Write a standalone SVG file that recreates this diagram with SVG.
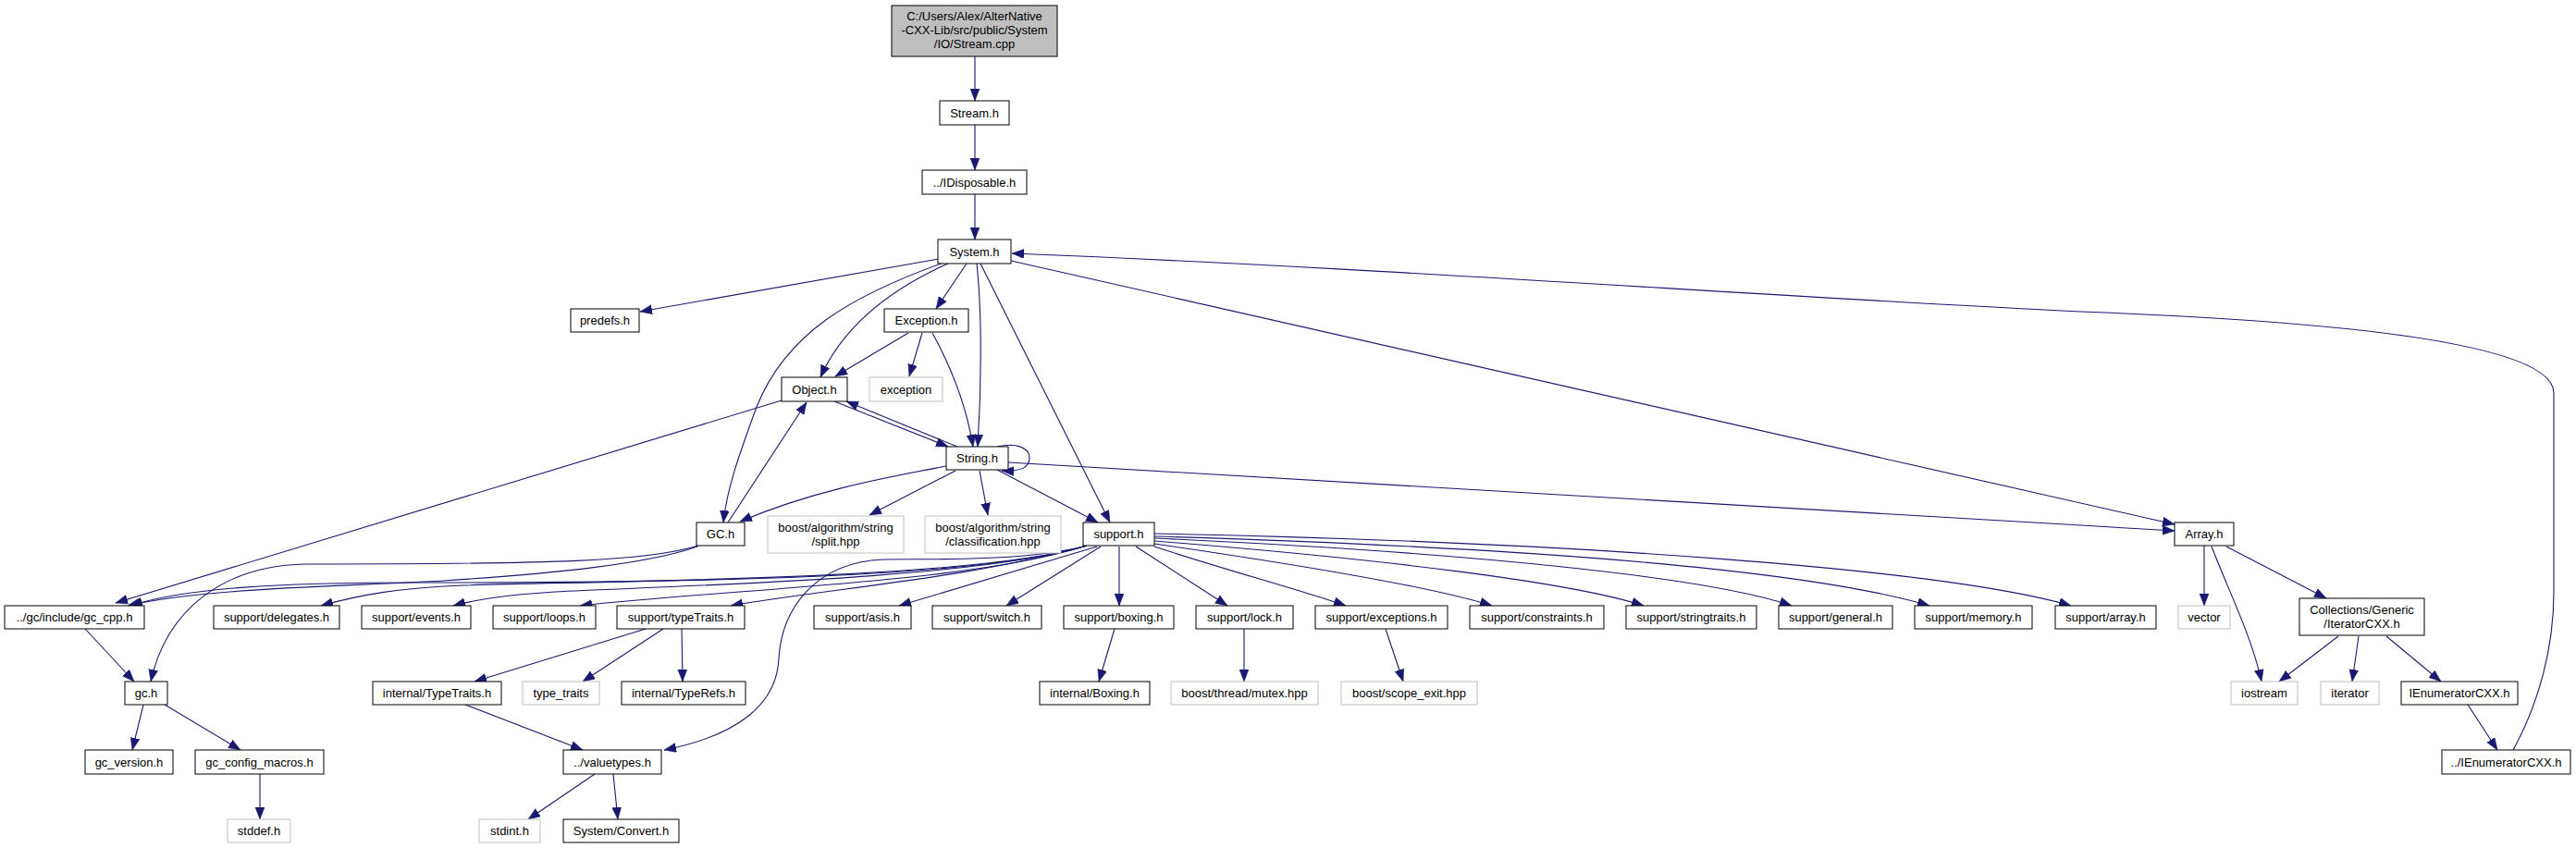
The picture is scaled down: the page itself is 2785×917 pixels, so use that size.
<svg xmlns="http://www.w3.org/2000/svg" width="2785" height="917" viewBox="0 0 2785 917">
<style>
.n rect{fill:#fff;stroke:#000;stroke-width:1}
.x rect{fill:#fff;stroke:#bfbfbf;stroke-width:1}
.r rect{fill:#bfbfbf;stroke:#000;stroke-width:1}
text{font-family:"Liberation Sans",Arial,sans-serif;font-size:13px;text-anchor:middle;fill:#000}
#edges path{fill:none;stroke:#191970;stroke-width:1.1;marker-end:url(#a)}
</style>
<defs>
<marker id="a" markerUnits="userSpaceOnUse" markerWidth="14" markerHeight="11" refX="13" refY="5" orient="auto">
<path d="M0,0 L13,5 L0,10 z" fill="#191970" stroke="#191970" stroke-width="0.5"/>
</marker>
</defs>
<rect width="2785" height="917" fill="#fff"/>
<g id="edges">
<path d="M1054,61 L1054,109"/>
<path d="M1054,135 L1054,184"/>
<path d="M1054,210 L1054,259"/>
<path d="M1015,280 L692,337"/>
<path d="M1025,285 C965,312 912,352 887,408"/>
<path d="M1020,284 C920,320 850,360 818,440 C796,500 786,530 782,565"/>
<path d="M1045,285 L1012,334"/>
<path d="M1056,285 C1062,340 1061,420 1057,483"/>
<path d="M1060,285 L1200,565"/>
<path d="M1093,282 L2351,567"/>
<path d="M2717,811 C2745,760 2761,700 2761,640 L2761,425 C2761,380 2600,350 2250,337 C1900,320 1500,290 1094,274"/>
<path d="M982,360 L903,407"/>
<path d="M997,360 L983,407"/>
<path d="M1008,360 C1030,400 1045,440 1052,483"/>
<path d="M902,434 L1025,483"/>
<path d="M1035,483 L915,434"/>
<path d="M845,433 L125,652"/>
<path d="M1078,483 C1100,478 1113,485 1113,495 C1113,505 1105,510 1083,509"/>
<path d="M1023,504 C960,516 880,530 800,564"/>
<path d="M1033,509 L940,557"/>
<path d="M1059,509 L1068,557"/>
<path d="M1078,508 L1187,565"/>
<path d="M1090,500 L2351,574"/>
<path d="M787,565 L872,435"/>
<path d="M754,591 C700,610 600,620 480,628 C350,635 220,636 138,655"/>
<path d="M755,590 C700,607 600,610 330,610 C240,612 180,660 163,737"/>
<path d="M92,680 L145,737"/>
<path d="M155,762 L143,811"/>
<path d="M178,762 L260,811"/>
<path d="M281,837 L281,886"/>
<path d="M1175,590 C1050,628 700,630 450,630 C300,630 200,636 141,655"/>
<path d="M1175,590 C1050,628 650,628 500,633 C430,636 390,643 347,655"/>
<path d="M1175,590 C1050,628 700,634 600,640 C550,643 520,647 490,655"/>
<path d="M1175,590 C1050,630 800,636 627,655"/>
<path d="M1175,590 C1050,625 900,636 790,655"/>
<path d="M1186,591 L972,655"/>
<path d="M1190,591 L1088,655"/>
<path d="M1210,591 L1210,655"/>
<path d="M1228,591 L1327,655"/>
<path d="M1248,591 C1330,618 1400,636 1455,655"/>
<path d="M1248,588 C1400,610 1550,635 1613,655"/>
<path d="M1248,585 C1500,605 1700,630 1777,655"/>
<path d="M1248,582 C1600,598 1850,625 1937,655"/>
<path d="M1248,580 C1650,592 1950,615 2086,655"/>
<path d="M1248,577 C1700,586 2100,615 2239,655"/>
<path d="M1172,591 C1100,608 1000,604 955,605 C880,608 845,660 842,712 C840,760 800,795 718,811"/>
<path d="M698,680 L513,737"/>
<path d="M717,680 L630,737"/>
<path d="M737,680 L738,737"/>
<path d="M503,762 L630,811"/>
<path d="M643,837 L571,886"/>
<path d="M663,837 L668,886"/>
<path d="M1205,680 L1188,737"/>
<path d="M1345,680 L1345,737"/>
<path d="M1498,680 L1517,737"/>
<path d="M2383,590 L2383,655"/>
<path d="M2391,591 C2410,640 2435,690 2445,737"/>
<path d="M2407,591 L2515,647"/>
<path d="M2528,688 L2464,737"/>
<path d="M2550,688 L2543,737"/>
<path d="M2580,688 L2639,737"/>
<path d="M2668,762 L2700,811"/>
</g>
<g id="n_root" class="r"><rect x="964" y="6" width="179" height="55"/><text x="1053.5" y="21.5">C:/Users/Alex/AlterNative</text><text x="1053.5" y="36.5">-CXX-Lib/src/public/System</text><text x="1053.5" y="51.5">/IO/Stream.cpp</text></g>
<g id="n_stream_h" class="n"><rect x="1016" y="109" width="75" height="26"/><text x="1053.5" y="126.5">Stream.h</text></g>
<g id="n_idisposable" class="n"><rect x="997" y="184" width="113" height="26"/><text x="1053.5" y="201.5">../IDisposable.h</text></g>
<g id="n_system" class="n"><rect x="1014" y="259" width="79" height="26"/><text x="1053.5" y="276.5">System.h</text></g>
<g id="n_predefs" class="n"><rect x="617" y="334" width="74" height="25"/><text x="654" y="351">predefs.h</text></g>
<g id="n_exception_h" class="n"><rect x="956" y="334" width="91" height="25"/><text x="1001.5" y="351">Exception.h</text></g>
<g id="n_object" class="n"><rect x="845" y="408" width="71" height="26"/><text x="880.5" y="425.5">Object.h</text></g>
<g id="n_exception" class="x"><rect x="940" y="408" width="79" height="26"/><text x="979.5" y="425.5">exception</text></g>
<g id="n_string" class="n"><rect x="1023" y="483" width="67" height="25"/><text x="1056.5" y="500">String.h</text></g>
<g id="n_gc" class="n"><rect x="753" y="565" width="52" height="25"/><text x="779" y="582">GC.h</text></g>
<g id="n_split" class="x"><rect x="830" y="558" width="147" height="40"/><text x="903.5" y="575">boost/algorithm/string</text><text x="903.5" y="589.5">/split.hpp</text></g>
<g id="n_classification" class="x"><rect x="1000" y="558" width="147" height="40"/><text x="1073.5" y="575">boost/algorithm/string</text><text x="1073.5" y="589.5">/classification.hpp</text></g>
<g id="n_support" class="n"><rect x="1171" y="565" width="77" height="25"/><text x="1209.5" y="582">support.h</text></g>
<g id="n_array" class="n"><rect x="2351" y="565" width="64" height="25"/><text x="2383" y="582">Array.h</text></g>
<g id="n_gc_cpp" class="n"><rect x="5" y="655" width="151" height="25"/><text x="80.5" y="672">../gc/include/gc_cpp.h</text></g>
<g id="n_delegates" class="n"><rect x="231" y="655" width="136" height="25"/><text x="299" y="672">support/delegates.h</text></g>
<g id="n_events" class="n"><rect x="391" y="655" width="118" height="25"/><text x="450" y="672">support/events.h</text></g>
<g id="n_loops" class="n"><rect x="533" y="655" width="111" height="25"/><text x="588.5" y="672">support/loops.h</text></g>
<g id="n_typetraits" class="n"><rect x="667" y="655" width="138" height="25"/><text x="736" y="672">support/typeTraits.h</text></g>
<g id="n_asis" class="n"><rect x="880" y="655" width="105" height="25"/><text x="932.5" y="672">support/asis.h</text></g>
<g id="n_switch" class="n"><rect x="1008" y="655" width="118" height="25"/><text x="1067" y="672">support/switch.h</text></g>
<g id="n_boxing" class="n"><rect x="1150" y="655" width="119" height="25"/><text x="1209.5" y="672">support/boxing.h</text></g>
<g id="n_lock" class="n"><rect x="1293" y="655" width="105" height="25"/><text x="1345.5" y="672">support/lock.h</text></g>
<g id="n_exceptions" class="n"><rect x="1422" y="655" width="143" height="25"/><text x="1493.5" y="672">support/exceptions.h</text></g>
<g id="n_constraints" class="n"><rect x="1589" y="655" width="145" height="25"/><text x="1661.5" y="672">support/constraints.h</text></g>
<g id="n_stringtraits" class="n"><rect x="1758" y="655" width="141" height="25"/><text x="1828.5" y="672">support/stringtraits.h</text></g>
<g id="n_general" class="n"><rect x="1923" y="655" width="123" height="25"/><text x="1984.5" y="672">support/general.h</text></g>
<g id="n_memory" class="n"><rect x="2070" y="655" width="127" height="25"/><text x="2133.5" y="672">support/memory.h</text></g>
<g id="n_sarray" class="n"><rect x="2222" y="655" width="109" height="25"/><text x="2276.5" y="672">support/array.h</text></g>
<g id="n_vector" class="x"><rect x="2355" y="655" width="56" height="25"/><text x="2383" y="672">vector</text></g>
<g id="n_iterator_cxx" class="n"><rect x="2486" y="647" width="135" height="40"/><text x="2553.5" y="664">Collections/Generic</text><text x="2553.5" y="678.5">/IteratorCXX.h</text></g>
<g id="n_gch" class="n"><rect x="135" y="737" width="46" height="25"/><text x="158" y="754">gc.h</text></g>
<g id="n_int_typetraits" class="n"><rect x="403" y="737" width="139" height="25"/><text x="472.5" y="754">internal/TypeTraits.h</text></g>
<g id="n_type_traits" class="x"><rect x="565" y="737" width="83" height="25"/><text x="606.5" y="754">type_traits</text></g>
<g id="n_typerefs" class="n"><rect x="672" y="737" width="134" height="25"/><text x="739" y="754">internal/TypeRefs.h</text></g>
<g id="n_int_boxing" class="n"><rect x="1124" y="737" width="119" height="25"/><text x="1183.5" y="754">internal/Boxing.h</text></g>
<g id="n_mutex" class="x"><rect x="1266" y="737" width="159" height="25"/><text x="1345.5" y="754">boost/thread/mutex.hpp</text></g>
<g id="n_scope_exit" class="x"><rect x="1450" y="737" width="147" height="25"/><text x="1523.5" y="754">boost/scope_exit.hpp</text></g>
<g id="n_iostream" class="x"><rect x="2412" y="737" width="72" height="25"/><text x="2448" y="754">iostream</text></g>
<g id="n_iterator" class="x"><rect x="2509" y="737" width="63" height="25"/><text x="2540.5" y="754">iterator</text></g>
<g id="n_ienum" class="n"><rect x="2596" y="737" width="126" height="25"/><text x="2659" y="754">IEnumeratorCXX.h</text></g>
<g id="n_gc_version" class="n"><rect x="92" y="811" width="95" height="26"/><text x="139.5" y="828.5">gc_version.h</text></g>
<g id="n_gc_config" class="n"><rect x="211" y="811" width="139" height="26"/><text x="280.5" y="828.5">gc_config_macros.h</text></g>
<g id="n_valuetypes" class="n"><rect x="609" y="811" width="106" height="26"/><text x="662" y="828.5">../valuetypes.h</text></g>
<g id="n_ienum2" class="n"><rect x="2640" y="811" width="139" height="26"/><text x="2709.5" y="828.5">../IEnumeratorCXX.h</text></g>
<g id="n_stddef" class="x"><rect x="246" y="886" width="68" height="25"/><text x="280" y="903">stddef.h</text></g>
<g id="n_stdint" class="x"><rect x="518" y="886" width="66" height="25"/><text x="551" y="903">stdint.h</text></g>
<g id="n_convert" class="n"><rect x="609" y="886" width="125" height="25"/><text x="671.5" y="903">System/Convert.h</text></g>
</svg>
